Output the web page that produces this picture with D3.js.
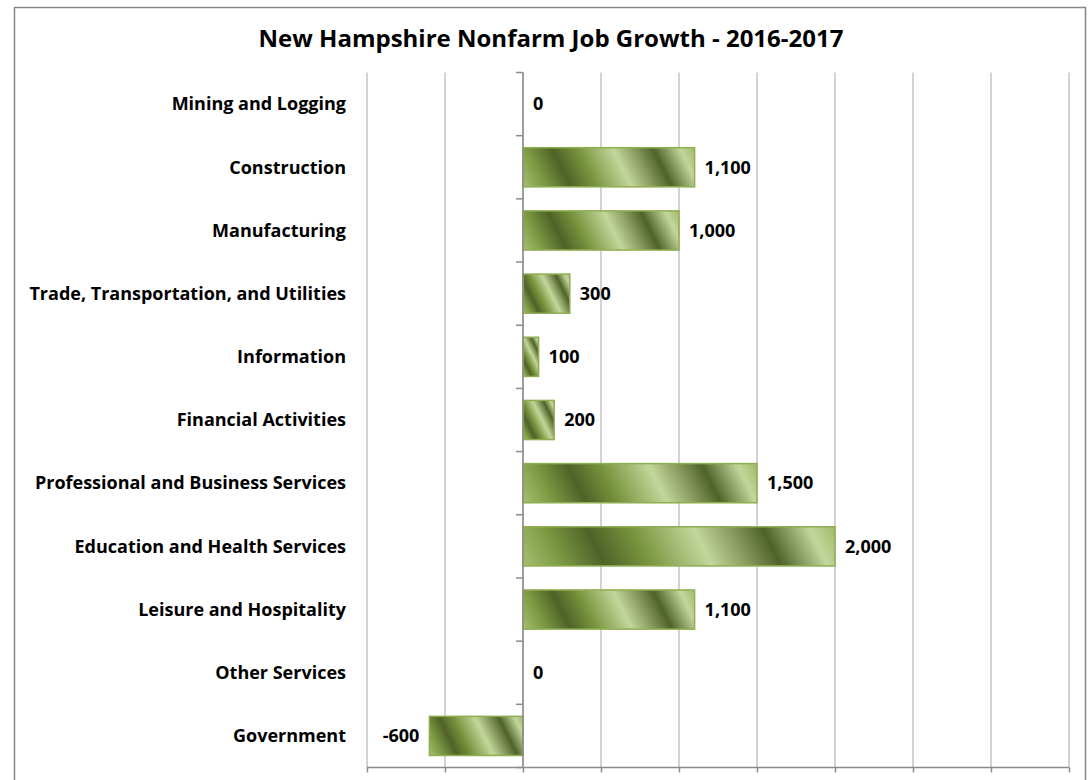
<!DOCTYPE html>
<html>
<head>
<meta charset="utf-8">
<script src="https://cdn.jsdelivr.net/npm/d3@7"></script>
<style>
  html, body { margin: 0; padding: 0; background: #fff; }
  svg { display: block; }
  text { font-family: "Open Sans", "Liberation Sans", sans-serif; }
</style>
</head>
<body>
<svg id="chart" width="1090" height="780"></svg>
<script>
// Job growth by industry, 2016-2017
const categories = [
  "Mining and Logging",
  "Construction",
  "Manufacturing",
  "Trade, Transportation, and Utilities",
  "Information",
  "Financial Activities",
  "Professional and Business Services",
  "Education and Health Services",
  "Leisure and Hospitality",
  "Other Services",
  "Government"
];
const jobChange = [0, 1100, 1000, 300, 100, 200, 1500, 2000, 1100, 0, -600];
const xTicks = [-1000, -500, 0, 500, 1000, 1500, 2000, 2500, 3000, 3500];
const title = "New Hampshire Nonfarm Job Growth - 2016-2017";

const svg = d3.select("#chart");
const plot = { left: 367, right: 1069, top: 72.5, bottom: 767.5 };

// Outer chart frame
svg.append("rect")
  .attr("x", 14.5).attr("y", 7.5)
  .attr("width", 1071).attr("height", 790)
  .attr("fill", "#fff")
  .attr("stroke", "#868686").attr("stroke-width", 1.5);

// Title
svg.append("text")
  .attr("x", 551).attr("y", 47)
  .attr("text-anchor", "middle")
  .attr("font-size", 24).attr("font-weight", 700)
  .attr("fill", "#000")
  .text(title);

const x = d3.scaleLinear()
  .domain([d3.min(xTicks), d3.max(xTicks)])
  .range([plot.left, plot.right]);

const y = d3.scaleBand()
  .domain(categories)
  .range([plot.top, plot.bottom])
  .paddingInner(0.38)
  .paddingOuter(0.19);

// Vertical gridlines
svg.append("g")
  .selectAll("line")
  .data(xTicks)
  .join("line")
  .attr("x1", d => x(d)).attr("x2", d => x(d))
  .attr("y1", plot.top).attr("y2", plot.bottom)
  .attr("stroke", "#c4c4c4").attr("stroke-width", 1.5);

// Bottom value axis (ticks only, no labels)
const xAxis = svg.append("g")
  .attr("transform", `translate(0,${plot.bottom})`)
  .call(d3.axisBottom(x).tickValues(xTicks).tickSize(5).tickFormat(""));
xAxis.select(".domain").attr("stroke", "#8c8c8c").attr("stroke-width", 1.5)
  .attr("d", `M${plot.left},0H${plot.right}`);
xAxis.selectAll(".tick line").attr("stroke", "#8c8c8c").attr("stroke-width", 1.5);

// Gradient for each bar: diagonal stripes that scale with the bar length
const defs = svg.append("defs");
const stops = [
  [0.00, "#a6c072"],
  [0.12, "#7b9a42"],
  [0.25, "#4f6228"],
  [0.38, "#77933c"],
  [0.57, "#c3d69b"],
  [0.68, "#899b5e"],
  [0.78, "#4f6228"],
  [0.92, "#c3d69b"],
  [1.00, "#9fb96a"]
];
const bw = y.bandwidth();
jobChange.forEach((v, i) => {
  const x0 = Math.min(x(0), x(v));
  const w = Math.abs(x(v) - x(0));
  const yTop = y(categories[i]);
  // stripe direction: isolines run along (1,2); gradient runs along (2,-1)
  const len = (2 * w + bw) / Math.sqrt(5);
  const ux = 2 / Math.sqrt(5), uy = -1 / Math.sqrt(5);
  const g = defs.append("linearGradient")
    .attr("id", "barGrad" + i)
    .attr("gradientUnits", "userSpaceOnUse")
    .attr("x1", x0).attr("y1", yTop + bw)
    .attr("x2", x0 + ux * len).attr("y2", yTop + bw + uy * len);
  stops.forEach(s => g.append("stop").attr("offset", s[0]).attr("stop-color", s[1]));
});

// Bars
svg.append("g")
  .selectAll("rect")
  .data(jobChange.map((v, i) => ({ v, i, c: categories[i] })))
  .join("rect")
  .filter(d => d.v !== 0)
  .attr("x", d => Math.min(x(0), x(d.v)))
  .attr("y", d => y(d.c))
  .attr("width", d => Math.abs(x(d.v) - x(0)))
  .attr("height", bw)
  .attr("fill", d => `url(#barGrad${d.i})`)
  .attr("stroke", "#8fae4f").attr("stroke-width", 1.5);

// Category axis at zero with ticks between categories
const axisX = x(0);
svg.append("line")
  .attr("x1", axisX).attr("x2", axisX)
  .attr("y1", plot.top).attr("y2", plot.bottom)
  .attr("stroke", "#8c8c8c").attr("stroke-width", 1.5);
const step = y.step();
const boundaries = d3.range(categories.length + 1).map(k => plot.top + k * step);
svg.append("g")
  .selectAll("line")
  .data(boundaries)
  .join("line")
  .attr("x1", axisX - 7).attr("x2", axisX)
  .attr("y1", d => d).attr("y2", d => d)
  .attr("stroke", "#8c8c8c").attr("stroke-width", 1.5);

// Category labels
svg.append("g")
  .selectAll("text")
  .data(categories)
  .join("text")
  .attr("x", 346)
  .attr("y", d => y(d) + bw / 2)
  .attr("dy", "0.35em")
  .attr("text-anchor", "end")
  .attr("font-size", 18).attr("font-weight", 700)
  .attr("fill", "#000")
  .text(d => d);

// Value labels (plain hyphen for negatives)
const fmt = d3.formatLocale({ decimal: ".", thousands: ",", grouping: [3], currency: ["", ""], minus: "-" }).format(",");
svg.append("g")
  .selectAll("text")
  .data(jobChange.map((v, i) => ({ v, c: categories[i] })))
  .join("text")
  .attr("x", d => d.v < 0 ? x(d.v) - 10 : x(d.v) + 10)
  .attr("y", d => y(d.c) + bw / 2)
  .attr("dy", "0.35em")
  .attr("text-anchor", d => d.v < 0 ? "end" : "start")
  .attr("font-size", 18).attr("font-weight", 700)
  .attr("fill", "#000")
  .text(d => fmt(d.v));
</script>
</body>
</html>
